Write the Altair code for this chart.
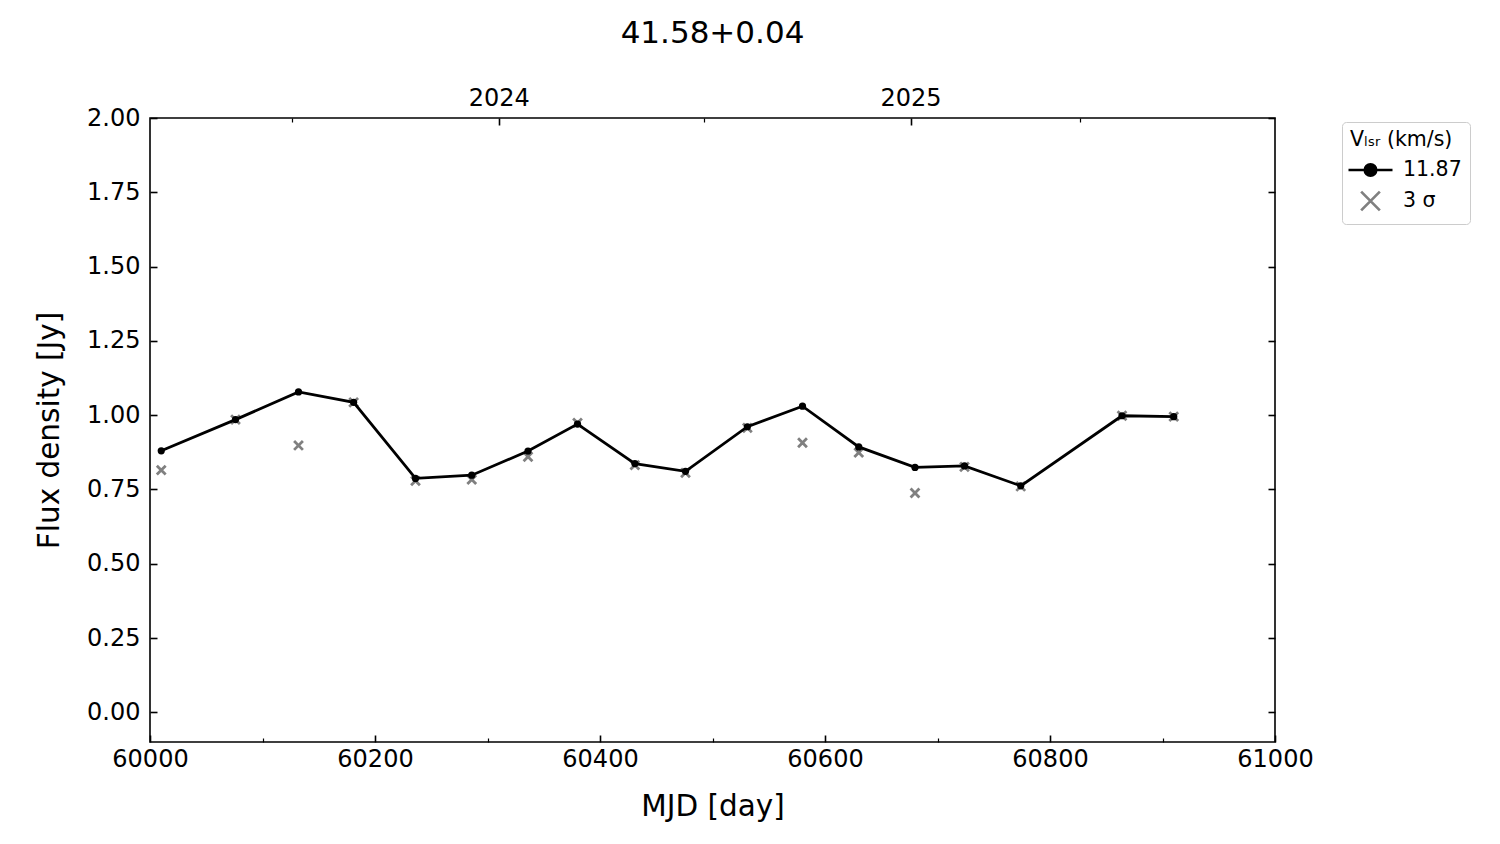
import altair as alt
import pandas as pd

# ---- data ----
mjd = [60010, 60076, 60132, 60181, 60236, 60286, 60336, 60380, 60431,
       60476, 60531, 60580, 60630, 60680, 60724, 60774, 60864, 60910]
flux = [0.880, 0.985, 1.078, 1.043, 0.787, 0.798, 0.879, 0.970, 0.837,
        0.811, 0.961, 1.030, 0.893, 0.824, 0.829, 0.762, 0.998, 0.995]
sigma3 = [0.815, 0.985, 0.898, 1.043, 0.779, 0.783, 0.860, 0.974, 0.832,
          0.806, 0.957, 0.907, 0.874, 0.738, 0.826, 0.760, 0.998, 0.995]

series_names = ["11.87", "3 σ"]
x_major = [60000, 60200, 60400, 60600, 60800, 61000]
x_minor = [60100, 60300, 60500, 60700, 60900]
y_ticks = [0.0, 0.25, 0.5, 0.75, 1.0, 1.25, 1.5, 1.75, 2.0]
year_ticks = [60310, 60676]
year_labels = ["2024", "2025"]
year_minor = [60126, 60492, 60827]

main = pd.DataFrame({"mjd": mjd, "flux": flux, "series": series_names[0]})
sig = pd.DataFrame({"mjd": mjd, "flux": sigma3, "series": series_names[1]})

FONT = "DejaVu Sans"
xs = alt.Scale(domain=[60000, 61000], nice=False, zero=False)
ys = alt.Scale(domain=[-0.1, 2.0], nice=False, zero=False)

common_axis = dict(domain=False, grid=False, tickColor="black", labelColor="black",
                   labelFont=FONT, titleFont=FONT, labelFontSize=24, titleFontSize=29.5,
                   titleFontWeight="normal", titleColor="black", labelFlush=False)

label_expr = " : ".join(
    [f"datum.value == {v} ? '{l}'" for v, l in zip(year_ticks, year_labels)] + ["''"]
)

# layer 1: 3 sigma crosses (top year axis, right y ticks)
cross_path = "M-1,-1L1,1M-1,1L1,-1"
l_sig = alt.Chart(sig).mark_point(
    shape=cross_path, size=78, filled=False, stroke="#808080", strokeWidth=2.8, opacity=1
).encode(
    x=alt.X("mjd:Q", scale=xs, axis=alt.Axis(
        orient="top", values=year_ticks, labelExpr=label_expr, tickSize=7, offset=-7,
        tickWidth=1.6, labelPadding=8, title=None, **common_axis)),
    y=alt.Y("flux:Q", scale=ys, axis=alt.Axis(
        orient="right", values=y_ticks, labels=False, tickSize=7, offset=-7,
        tickWidth=1.6, title=None, **common_axis)),
)

# layer 2: line (bottom & left main axes)
l_line = alt.Chart(main).mark_line(color="black", strokeWidth=2.8).encode(
    x=alt.X("mjd:Q", scale=xs, axis=alt.Axis(
        orient="bottom", values=x_major, format="d", tickSize=7, offset=-7,
        tickWidth=1.6, labelPadding=5, title="MJD [day]", titlePadding=21,
        **common_axis)),
    y=alt.Y("flux:Q", scale=ys, axis=alt.Axis(
        orient="left", values=y_ticks, format=".2f", tickSize=7, offset=-7,
        tickWidth=1.6, labelPadding=10, title="Flux density [Jy]", titlePadding=22,
        **common_axis)),
)

# layer 3: points (bottom minor ticks)
l_pts = alt.Chart(main).mark_circle(color="black", size=52, opacity=1).encode(
    x=alt.X("mjd:Q", scale=xs, axis=alt.Axis(
        orient="bottom", values=x_minor, labels=False, tickSize=4, offset=-4,
        tickWidth=1.2, title=None, **common_axis)),
    y=alt.Y("flux:Q", scale=ys, axis=None),
)

# layer 4: legend carrier (top minor ticks)
legend_line_path = "M-2,0L2,0M-0.52,0A0.52,0.52,0,1,0,0.52,0A0.52,0.52,0,1,0,-0.52,0Z"
legend_cross_path = "M-0.85,-0.85L0.85,0.85M-0.85,0.85L0.85,-0.85"
leg_title = "Vₗₛᵣ (km/s)"
l_leg = alt.Chart(main).mark_point(filled=True, opacity=0, strokeWidth=2.7).encode(
    x=alt.X("mjd:Q", scale=xs, axis=alt.Axis(
        orient="top", values=year_minor, labels=False, tickSize=4, offset=-4,
        tickWidth=1.2, title=None, **common_axis)),
    y=alt.Y("flux:Q", scale=ys, axis=None),
    shape=alt.Shape("series:N", scale=alt.Scale(domain=series_names,
                    range=[legend_line_path, legend_cross_path]),
                    legend=alt.Legend(title=leg_title)),
    fill=alt.Fill("series:N", scale=alt.Scale(domain=series_names,
                  range=["black", "transparent"]), legend=alt.Legend(title=leg_title)),
    stroke=alt.Stroke("series:N", scale=alt.Scale(domain=series_names,
                      range=["black", "#808080"]), legend=alt.Legend(title=leg_title)),
)

chart = alt.layer(l_sig, l_line, l_pts, l_leg).resolve_axis(
    x="independent", y="independent"
).properties(
    width=1125, height=624,
    title=alt.Title("41.58+0.04", font=FONT, fontSize=31, fontWeight="normal",
                    color="black", offset=36),
    autosize=alt.AutoSizeParams(type="none"),
    padding={"left": 142, "top": 110, "right": 217, "bottom": 94},
).configure_view(
    stroke="black", strokeWidth=1.6
).configure_legend(
    orient="none", legendX=1192, legendY=4,
    titleFont=FONT, labelFont=FONT, titleFontSize=20.5, labelFontSize=20.5,
    titleFontWeight="normal", titleColor="black", labelColor="black",
    symbolSize=484, symbolStrokeWidth=2.7, symbolOpacity=1,
    strokeColor="#cccccc", cornerRadius=4, padding=8, fillColor="white",
    symbolOffset=8, labelOffset=20, rowPadding=4, titlePadding=7,
)

chart.save("out.html", embed_options={"renderer": "svg", "actions": False})
